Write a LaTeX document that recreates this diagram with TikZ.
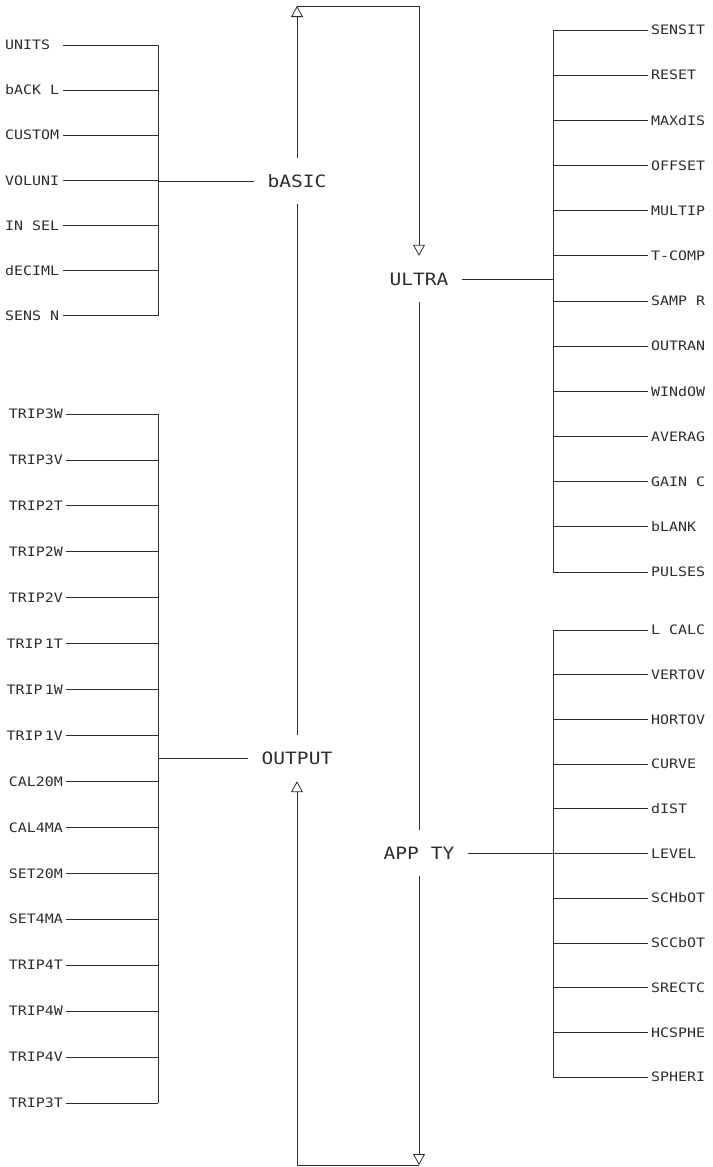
\documentclass[tikz,border=0pt]{standalone}
\usepackage{fontspec}
\newfontfamily\lcdfont[FakeStretch=1.15]{DejaVu Sans Mono}
\usetikzlibrary{arrows.meta,positioning,calc}
\definecolor{menuInk}{RGB}{45,45,45}
\tikzset{
  menu/.style={font=\lcdfont\fontsize{17}{17}\selectfont, text=menuInk,
               inner xsep=13pt, inner ysep=17pt, text height=12pt, text depth=0pt},
  item/.style={font=\lcdfont\fontsize{13}{13}\selectfont, text=menuInk,
               inner xsep=3pt, inner ysep=2pt, text height=9.5pt, text depth=0pt},
  leftitem/.style={item, anchor=east},
  rightitem/.style={item, anchor=west},
  wire/.style={draw=menuInk, line width=0.8pt},
  flow/.style={wire, -{Triangle[open, width=12pt, length=11pt]}}
}

\begin{document}
\begin{tikzpicture}[x=1pt, y=-1pt]
\useasboundingbox (0,0) rectangle (712,1167);
% main menus
\node[menu] (basic) at (297,181) {bASIC};
\node[menu] (ultra) at (419,279) {ULTRA};
\node[menu] (output) at (297,758) {OUTPUT};
\node[menu] (appty) at (419,853) {APP TY};
\coordinate (topturn) at (297,6);
\coordinate (bottomturn) at (419,1165);
\coordinate (basicbar) at (158,0);
\coordinate (ultrabar) at (553,0);
% loop between the menus
\draw[flow] (basic) -- (topturn);
\draw[flow] (topturn) -| (ultra);
\draw[wire] (ultra) -- (appty);
\draw[flow] (appty) -- (bottomturn);
\draw[flow] (bottomturn) -| (output);
\draw[wire] (basic) -- (output);
% basic submenu
\foreach \name [count=\i from 0] in {UNITS, bACK L, CUSTOM, VOLUNI, IN SEL, dECIML, SENS N} {
  \node[item, anchor=west] (b\i) at (2, {45+45.1*\i}) {\name};
  \draw[wire] (b\i.west) ++(61,0) -- (b\i -| basicbar);
}
\draw[wire] (b0 -| basicbar) -- (b6 -| basicbar);
\draw[wire] (basic) -- (basic -| basicbar);
% output submenu
\foreach \name [count=\i from 0] in {TRIP3W, TRIP3V, TRIP2T, TRIP2W, TRIP2V, TRIP\,1T, TRIP\,1W, TRIP\,1V,
    CAL20M, CAL4MA, SET20M, SET4MA, TRIP4T, TRIP4W, TRIP4V, TRIP3T} {
  \node[leftitem] (o\i) at (66, {414+45.93*\i}) {\name};
  \draw[wire] (o\i.east) -- (o\i.east -| basicbar);
}
\draw[wire] (o0.east -| basicbar) -- (o15.east -| basicbar);
\draw[wire] (output) -- (output -| basicbar);
% ultra submenu
\foreach \name [count=\i from 0] in {SENSIT, RESET, MAXdIS, OFFSET, MULTIP, T-COMP, SAMP R,
    OUTRAN, WINdOW, AVERAG, GAIN C, bLANK, PULSES} {
  \node[rightitem] (u\i) at (648, {30+45.17*\i}) {\name};
  \draw[wire] (u\i.west -| ultrabar) -- (u\i.west);
}
\draw[wire] (u0.west -| ultrabar) -- (u12.west -| ultrabar);
\draw[wire] (ultra) -- (ultra -| ultrabar);
% app ty submenu
\foreach \name [count=\i from 0] in {L CALC, VERTOV, HORTOV, CURVE, dIST, LEVEL, SCHbOT,
    SCCbOT, SRECTC, HCSPHE, SPHERI} {
  \node[rightitem] (a\i) at (648, {630+44.7*\i}) {\name};
  \draw[wire] (a\i.west -| ultrabar) -- (a\i.west);
}
\draw[wire] (a0.west -| ultrabar) -- (a10.west -| ultrabar);
\draw[wire] (appty) -- (appty -| ultrabar);
\end{tikzpicture}
\end{document}
